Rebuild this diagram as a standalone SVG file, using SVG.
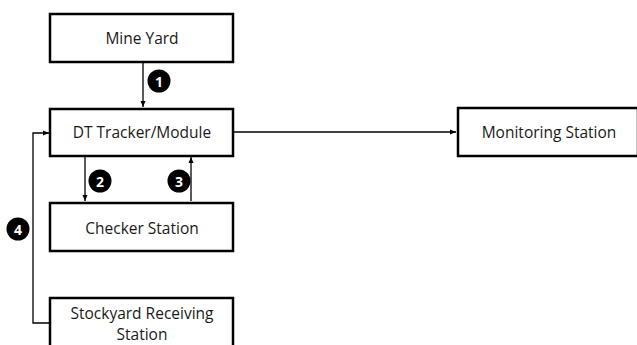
<svg xmlns="http://www.w3.org/2000/svg" width="637" height="345" viewBox="0 0 637 345">
<style>
.box{fill:#fff;stroke:#000;stroke-width:2.5}
.lbl{font-family:"Open Sans","Noto Sans",sans-serif;font-size:15.5px;fill:#1a1a1a;text-anchor:middle;dominant-baseline:central}
.con{fill:none;stroke:#000;stroke-width:1.3}
.badge circle{fill:#000}
.badge text{font-family:"Open Sans","Noto Sans",sans-serif;font-size:14px;font-weight:bold;fill:#fff;text-anchor:middle;dominant-baseline:central}
</style>
<defs>
<marker id="ah" markerWidth="6" markerHeight="6" refX="6" refY="3" orient="auto" markerUnits="userSpaceOnUse">
<path d="M0,0.5 L6,3 L0,5.5 Z" fill="#000"/>
</marker>
</defs>
<rect width="637" height="345" fill="#fff"/>
<g id="connectors">
<path class="con" d="M143,63 V107" marker-end="url(#ah)"/>
<path class="con" d="M85,157 V201" marker-end="url(#ah)"/>
<path class="con" d="M191,201 V157" marker-end="url(#ah)"/>
<path class="con" d="M49,323 H33 V133 H49" marker-end="url(#ah)"/>
<path class="con" d="M234,132 H456" marker-end="url(#ah)"/>
</g>
<g id="mine-yard"><rect class="box" x="50" y="14" width="183" height="48"/><text class="lbl" x="142" y="38">Mine Yard</text></g>
<g id="dt-tracker"><rect class="box" x="50" y="109" width="183" height="47"/><text class="lbl" x="142" y="132">DT Tracker/Module</text></g>
<g id="checker-station"><rect class="box" x="50" y="203" width="183" height="48"/><text class="lbl" x="142" y="228">Checker Station</text></g>
<g id="stockyard"><rect class="box" x="50" y="298" width="183" height="60"/><text class="lbl" x="142" y="313">Stockyard Receiving</text><text class="lbl" x="142" y="334">Station</text></g>
<g id="monitoring-station"><rect class="box" x="458" y="108" width="180" height="48"/><text class="lbl" x="549" y="132">Monitoring Station</text></g>
<g id="badge-1" class="badge"><circle cx="159" cy="81" r="11.5"/><text x="159" y="81">1</text></g>
<g id="badge-2" class="badge"><circle cx="100" cy="181" r="11.5"/><text x="100" y="181">2</text></g>
<g id="badge-3" class="badge"><circle cx="179" cy="181" r="11.5"/><text x="179" y="181">3</text></g>
<g id="badge-4" class="badge"><circle cx="18" cy="229" r="11.5"/><text x="18" y="229">4</text></g>
</svg>
